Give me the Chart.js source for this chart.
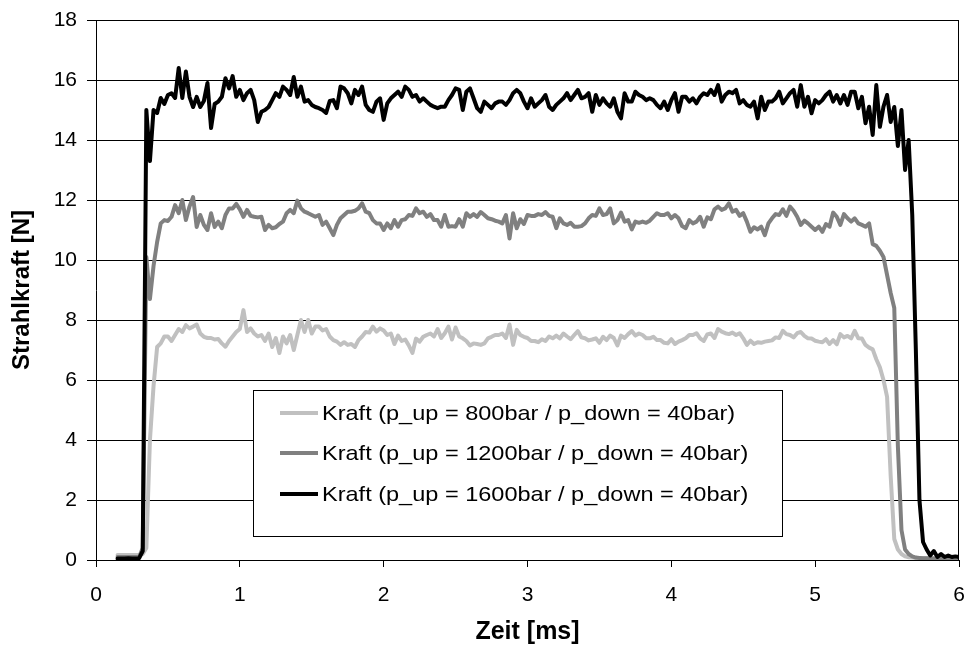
<!DOCTYPE html>
<html>
<head>
<meta charset="utf-8">
<script src="https://cdn.jsdelivr.net/npm/chart.js@4.4.1/dist/chart.umd.min.js"></script>
<style>
html,body{margin:0;padding:0;background:#fff;}
canvas{display:block;}
</style>
</head>
<body>
<canvas id="c" width="964" height="652"></canvas>
<script>
// ---- time axis samples [ms] ----
const time = [
0.15,0.175,0.2,0.225,0.25,0.275,0.3,0.325,0.35,0.375,
0.4,0.425,0.45,0.475,0.5,0.525,0.55,0.575,0.6,0.625,
0.65,0.675,0.7,0.725,0.75,0.775,0.8,0.825,0.85,0.875,
0.9,0.925,0.95,0.975,1.0,1.025,1.05,1.075,1.1,1.125,
1.15,1.175,1.2,1.225,1.25,1.275,1.3,1.325,1.35,1.375,
1.4,1.425,1.45,1.475,1.5,1.525,1.55,1.575,1.6,1.625,
1.65,1.675,1.7,1.725,1.75,1.775,1.8,1.825,1.85,1.875,
1.9,1.925,1.95,1.975,2.0,2.025,2.05,2.075,2.1,2.125,
2.15,2.175,2.2,2.225,2.25,2.275,2.3,2.325,2.35,2.375,
2.4,2.425,2.45,2.475,2.5,2.525,2.55,2.575,2.6,2.625,
2.65,2.675,2.7,2.725,2.75,2.775,2.8,2.825,2.85,2.875,
2.9,2.925,2.95,2.975,3.0,3.025,3.05,3.075,3.1,3.125,
3.15,3.175,3.2,3.225,3.25,3.275,3.3,3.325,3.35,3.375,
3.4,3.425,3.45,3.475,3.5,3.525,3.55,3.575,3.6,3.625,
3.65,3.675,3.7,3.725,3.75,3.775,3.8,3.825,3.85,3.875,
3.9,3.925,3.95,3.975,4.0,4.025,4.05,4.075,4.1,4.125,
4.15,4.175,4.2,4.225,4.25,4.275,4.3,4.325,4.35,4.375,
4.4,4.425,4.45,4.475,4.5,4.525,4.55,4.575,4.6,4.625,
4.65,4.675,4.7,4.725,4.75,4.775,4.8,4.825,4.85,4.875,
4.9,4.925,4.95,4.975,5.0,5.025,5.05,5.075,5.1,5.125,
5.15,5.175,5.2,5.225,5.25,5.275,5.3,5.325,5.35,5.375,
5.4,5.425,5.45,5.475,5.5,5.525,5.55,5.575,5.6,5.625,
5.65,5.675,5.7,5.725,5.75,5.775,5.8,5.825,5.85,5.875,
5.9,5.925,5.95,5.975,6.0
];

// ---- Kraft p_up = 800bar [N] ----
const force800 = [
0.17,0.17,0.17,0.17,0.17,0.17,0.17,0.2,0.4,4.0,
5.8,7.1,7.22,7.45,7.45,7.3,7.5,7.7,7.6,7.83,
7.72,7.78,7.85,7.55,7.44,7.4,7.4,7.35,7.37,7.22,
7.11,7.3,7.45,7.6,7.7,8.33,7.6,7.72,7.55,7.45,
7.5,7.3,7.55,7.1,7.4,6.9,7.45,7.22,7.5,7.0,
7.5,8.0,7.6,8.0,7.55,7.78,7.78,7.65,7.7,7.45,
7.33,7.28,7.17,7.26,7.17,7.2,7.1,7.33,7.45,7.6,
7.58,7.78,7.61,7.72,7.65,7.5,7.55,7.2,7.48,7.3,
7.35,7.15,6.9,7.38,7.28,7.44,7.5,7.55,7.45,7.7,
7.4,7.56,7.78,7.35,7.75,7.45,7.39,7.3,7.15,7.22,
7.2,7.17,7.22,7.39,7.44,7.5,7.5,7.55,7.4,7.85,
7.17,7.67,7.5,7.44,7.4,7.3,7.3,7.26,7.36,7.3,
7.45,7.39,7.48,7.39,7.55,7.45,7.36,7.5,7.63,7.42,
7.39,7.32,7.35,7.39,7.24,7.44,7.33,7.48,7.4,7.15,
7.48,7.4,7.53,7.63,7.48,7.55,7.5,7.39,7.39,7.44,
7.33,7.33,7.24,7.22,7.36,7.2,7.28,7.33,7.39,7.5,
7.5,7.56,7.39,7.3,7.52,7.55,7.4,7.7,7.61,7.56,
7.53,7.58,7.5,7.56,7.39,7.17,7.31,7.2,7.26,7.24,
7.28,7.3,7.32,7.42,7.4,7.64,7.53,7.5,7.42,7.56,
7.6,7.47,7.39,7.38,7.31,7.28,7.26,7.36,7.2,7.33,
7.19,7.53,7.42,7.47,7.39,7.64,7.39,7.38,7.17,7.08,
7.02,6.69,6.42,6.0,5.44,2.8,0.7,0.35,0.2,0.12,
0.09,0.08,0.07,0.07,0.06,0.06,0.06,0.06,0.06,0.06,
0.06,0.06,0.06,0.06,0.06
];

// ---- Kraft p_up = 1200bar [N] ----
const force1200 = [
0.1,0.1,0.1,0.1,0.1,0.1,0.1,0.4,10.1,8.7,
9.8,10.6,11.22,11.33,11.3,11.44,11.83,11.56,12.0,11.33,
11.78,12.1,11.1,11.5,11.17,11.0,11.56,11.1,11.28,11.06,
11.5,11.72,11.72,11.87,11.69,11.44,11.67,11.47,11.44,11.42,
11.44,11.0,11.17,11.06,11.09,11.2,11.28,11.56,11.67,11.56,
11.98,11.72,11.61,11.56,11.5,11.44,11.5,11.17,11.28,11.06,
10.83,11.17,11.39,11.5,11.61,11.61,11.64,11.72,11.89,11.61,
11.56,11.33,11.22,11.22,11.0,11.22,11.06,11.33,11.11,11.33,
11.36,11.5,11.47,11.72,11.56,11.61,11.44,11.53,11.33,11.33,
11.11,11.5,11.11,11.13,11.11,11.36,11.11,11.56,11.44,11.53,
11.44,11.6,11.5,11.39,11.36,11.31,11.28,11.22,11.5,10.72,
11.56,11.06,11.36,11.2,11.5,11.47,11.47,11.53,11.5,11.6,
11.47,11.44,11.06,11.39,11.22,11.17,11.24,11.11,11.11,11.13,
11.22,11.39,11.5,11.47,11.72,11.5,11.53,11.72,11.22,11.33,
11.58,11.28,11.33,11.02,11.28,11.24,11.28,11.24,11.31,11.44,
11.56,11.5,11.5,11.56,11.39,11.5,11.39,11.13,11.06,11.33,
11.22,11.28,11.44,11.11,11.42,11.36,11.69,11.78,11.67,11.72,
11.89,11.61,11.67,11.47,11.56,11.28,10.94,11.09,11.02,11.11,
10.83,11.22,11.39,11.53,11.5,11.69,11.47,11.78,11.64,11.44,
11.17,11.31,11.22,11.11,11.0,11.11,10.94,11.2,11.11,11.58,
11.44,11.17,11.53,11.39,11.28,11.39,11.22,11.17,11.11,11.22,
10.53,10.47,10.31,10.1,9.5,8.9,8.4,3.8,1.0,0.35,
0.2,0.12,0.08,0.07,0.06,0.06,0.05,0.05,0.05,0.05,
0.05,0.05,0.05,0.05,0.05
];

// ---- Kraft p_up = 1600bar [N] ----
const force1600 = [
0.05,0.05,0.05,0.06,0.05,0.05,0.06,0.3,15.0,13.3,
15.0,14.9,15.4,15.2,15.5,15.56,15.4,16.4,15.4,16.28,
15.44,15.1,15.44,15.1,15.3,15.9,14.4,15.2,15.28,15.44,
16.06,15.72,16.13,15.44,15.67,15.33,15.56,15.67,15.33,14.6,
14.94,15.0,15.1,15.33,15.56,15.44,15.78,15.67,15.5,16.1,
15.44,15.78,15.28,15.33,15.17,15.1,15.06,15.0,14.9,15.3,
15.33,15.06,15.78,15.72,15.56,15.22,15.67,15.5,15.78,15.17,
15.0,14.94,15.28,15.39,14.67,15.22,15.39,15.5,15.61,15.44,
15.78,15.67,15.44,15.5,15.28,15.39,15.28,15.17,15.11,15.06,
15.11,15.11,15.33,15.5,15.72,15.67,15.0,15.61,15.72,15.39,
15.06,14.94,15.28,15.17,15.06,15.22,15.28,15.28,15.17,15.33,
15.56,15.67,15.56,15.28,15.06,15.39,15.11,15.22,15.33,15.5,
15.11,15.0,15.17,15.28,15.39,15.56,15.33,15.5,15.67,15.39,
15.44,15.56,14.94,15.5,15.17,15.39,15.22,15.11,15.39,14.94,
14.72,15.56,15.28,15.28,15.61,15.5,15.44,15.33,15.39,15.33,
15.17,15.06,15.28,15.0,15.33,15.56,14.94,15.44,15.44,15.28,
15.39,15.22,15.44,15.56,15.5,15.67,15.5,15.83,15.28,15.5,
15.61,15.56,15.67,15.22,15.33,15.17,15.11,15.28,14.72,15.44,
15.0,15.28,15.28,15.39,15.61,15.22,15.39,15.56,15.67,15.11,
15.83,15.11,15.44,14.89,15.33,15.22,15.33,15.5,15.61,15.28,
15.5,15.22,15.5,15.17,15.61,15.61,15.06,15.44,14.56,15.11,
14.17,15.83,14.44,15.11,15.5,14.6,15.1,13.8,15.0,13.0,
14.0,11.5,7.0,2.0,0.6,0.35,0.15,0.3,0.1,0.2,
0.1,0.15,0.1,0.12,0.1
];

const seriesLabels = [
  'Kraft (p_up = 800bar / p_down = 40bar)',
  'Kraft (p_up = 1200bar / p_down = 40bar)',
  'Kraft (p_up = 1600bar / p_down = 40bar)'
];
const seriesColors = ['#C0C0C0', '#808080', '#000000'];
const xTicks = [0, 1, 2, 3, 4, 5, 6];
const yTicks = [0, 2, 4, 6, 8, 10, 12, 14, 16, 18];
const xTitle = 'Zeit [ms]';
const yTitle = 'Strahlkraft [N]';

const FONT = "'Liberation Sans', Arial, Helvetica, sans-serif";
const LINE_W = 4;

function points(values) {
  return time.map((t, i) => ({ x: t, y: values[i] }));
}

// frame on the right of the plot area
const framePlugin = {
  id: 'frame',
  afterDatasetsDraw(chart) {
    const { ctx, chartArea: a } = chart;
    ctx.save();
    ctx.strokeStyle = '#000';
    ctx.lineWidth = 1;
    const xr = Math.round(a.right) - 0.5;
    ctx.beginPath();
    ctx.moveTo(xr, Math.round(a.top));
    ctx.lineTo(xr, Math.round(a.bottom));
    ctx.stroke();
    ctx.restore();
  }
};

// boxed legend inside the plot
const legendLayout = { left: 253, top: 390, width: 529, height: 146, rows: [413, 453, 494], lineX0: 280, lineX1: 318, textX: 322, fontSize: 21, stretch: 1.12 };
const legendPlugin = {
  id: 'boxLegend',
  afterDraw(chart) {
    const { ctx } = chart;
    const L = legendLayout;
    ctx.save();
    ctx.fillStyle = '#fff';
    ctx.fillRect(L.left, L.top, L.width, L.height);
    ctx.strokeStyle = '#000';
    ctx.lineWidth = 1;
    ctx.strokeRect(L.left + 0.5, L.top + 0.5, L.width, L.height);
    chart.data.datasets.forEach((ds, i) => {
      const y = L.rows[i];
      ctx.strokeStyle = ds.borderColor;
      ctx.lineWidth = LINE_W;
      ctx.lineCap = 'butt';
      ctx.beginPath();
      ctx.moveTo(L.lineX0, y);
      ctx.lineTo(L.lineX1, y);
      ctx.stroke();
      ctx.save();
      ctx.translate(L.textX, y);
      ctx.scale(L.stretch, 1);
      ctx.fillStyle = '#000';
      ctx.font = L.fontSize + 'px ' + FONT;
      ctx.textAlign = 'left';
      ctx.textBaseline = 'middle';
      ctx.fillText(ds.label, 0, 1);
      ctx.restore();
    });
    ctx.restore();
  }
};

new Chart(document.getElementById('c').getContext('2d'), {
  type: 'line',
  data: {
    datasets: [
      { label: seriesLabels[0], data: points(force800), borderColor: seriesColors[0], order: 3 },
      { label: seriesLabels[1], data: points(force1200), borderColor: seriesColors[1], order: 2 },
      { label: seriesLabels[2], data: points(force1600), borderColor: seriesColors[2], order: 1 }
    ]
  },
  options: {
    responsive: false,
    animation: false,
    devicePixelRatio: 1,
    layout: { padding: { top: 20, right: 5, left: 0, bottom: 0 } },
    elements: {
      line: { borderWidth: LINE_W, tension: 0, borderJoinStyle: 'round', borderCapStyle: 'round', fill: false },
      point: { radius: 0, hoverRadius: 0 }
    },
    plugins: { legend: { display: false }, tooltip: { enabled: false } },
    scales: {
      x: {
        type: 'linear', position: 'bottom', min: 0, max: 6,
        afterBuildTicks: s => { s.ticks = xTicks.map(v => ({ value: v })); },
        afterFit: s => { s.height = 92; s.paddingLeft = 0; s.paddingRight = 0; },
        grid: { drawOnChartArea: false, drawTicks: true, tickLength: 7, color: '#000', lineWidth: 1 },
        border: { display: true, color: '#000', width: 1 },
        ticks: { color: '#000', font: { family: FONT, size: 21 }, padding: 16, maxRotation: 0, autoSkip: false },
        title: { display: true, text: xTitle, color: '#000', font: { family: FONT, size: 25, weight: 'bold' }, padding: { top: 0, bottom: 5 } }
      },
      y: {
        type: 'linear', position: 'left', min: 0, max: 18,
        afterBuildTicks: s => { s.ticks = yTicks.map(v => ({ value: v })); },
        afterFit: s => { s.width = 96; s.paddingTop = 0; s.paddingBottom = 0; },
        grid: { color: '#000', lineWidth: 1, drawTicks: true, tickLength: 9 },
        border: { display: true, color: '#000', width: 1 },
        ticks: { color: '#000', font: { family: FONT, size: 21 }, padding: 10 },
        title: { display: true, text: yTitle, color: '#000', font: { family: FONT, size: 24, weight: 'bold' }, padding: { top: 8, bottom: 0 } }
      }
    }
  },
  plugins: [framePlugin, legendPlugin]
});
</script>
</body>
</html>
